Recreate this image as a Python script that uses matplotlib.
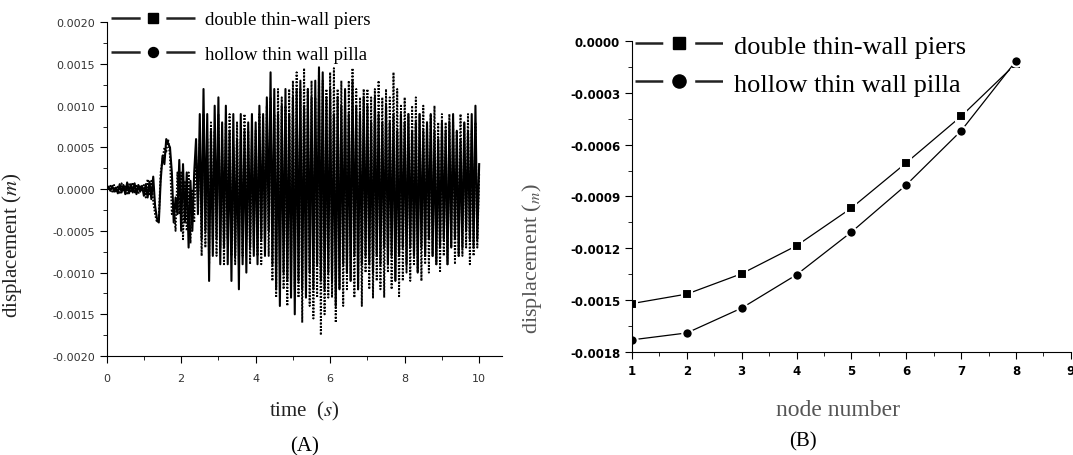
import numpy as np
import matplotlib
matplotlib.use("Agg")
import matplotlib.pyplot as plt
from matplotlib.lines import Line2D
from matplotlib.ticker import MultipleLocator, FormatStrFormatter

plt.rcParams['mathtext.fontset'] = 'stix'
plt.rcParams['lines.scale_dashes'] = False

# (A) displacement time history, peaks read every 0.05 s
time = np.round(np.arange(0, 10.001, 0.05), 2)

double_disp = [
    0.0, 0.00003, -0.00002, 0.00004, -0.00003, 0.00002, -0.00005, 0.00006, -0.00004, 0.00005,
    -0.00006, 0.00008, -0.00005, 0.00006, -0.00004, 0.00007, -0.00006, 0.00005, -0.00003, 0.00004,
    -0.00008, 0.00006, -0.0001, 0.00009, -0.00012, 0.00015, -0.0002, -0.00035, -0.0004, 0.0001,
    0.0004, 0.0003, 0.0006, 0.00055, 0.0005, 0.0002, -0.0004, -0.0001, -0.0003, 0.00035,
    -0.0005, 0.0003, -0.0004, 0.0002, -0.0007, 0.0001, -0.0005, 0.0002, 0.0006, -0.0003,
    0.0009, -0.0006, 0.0012, -0.0005, 0.0009, -0.0011, 0.0007, -0.0008, 0.001, -0.0006,
    0.0011, -0.0009, 0.0008, -0.0007, 0.001, -0.0009, 0.0007, -0.0011, 0.0009, -0.0008,
    0.0006, -0.0012, 0.0009, -0.0009, 0.0007, -0.001, 0.0008, -0.0007, 0.0009, -0.0008,
    0.0008, -0.0009, 0.001, -0.0006, 0.0009, -0.0008, 0.0011, -0.0005, 0.0014, -0.0009,
    0.0012, -0.0012, 0.0009, -0.0014, 0.001, -0.001, 0.0012, -0.0011, 0.0009, -0.0013,
    0.0011, -0.0015, 0.0012, -0.0011, 0.0013, -0.0012, 0.001, -0.0013, 0.0012, -0.001,
    0.0011, -0.0012, 0.0013, -0.0009, 0.00146, -0.0011, 0.0014, -0.0012, 0.0011, -0.001,
    0.0012, -0.0011, 0.0009, -0.0014, 0.0011, -0.0012, 0.001, -0.0009, 0.0012, -0.001,
    0.0009, -0.0011, 0.0013, -0.0008, 0.001, -0.0012, 0.0009, -0.0009, 0.0011, -0.0008,
    0.001, -0.0009, 0.0008, -0.001, 0.0011, -0.0008, 0.0009, -0.0009, 0.0008, -0.0007,
    0.001, -0.0009, 0.0008, -0.0008, 0.0009, -0.0011, 0.0007, -0.0008, 0.0009, -0.0007,
    0.0008, -0.0009, 0.0009, -0.0007, 0.0007, -0.0008, 0.0008, -0.001, 0.0009, -0.0007,
    0.0007, -0.0008, 0.0008, -0.0006, 0.0009, -0.0008, 0.0007, -0.0009, 0.0006, -0.0007,
    0.0008, -0.0006, 0.0007, -0.0009, 0.0008, -0.0007, 0.0009, -0.0006, 0.0007, -0.0008,
    0.0006, -0.0007, 0.0008, -0.0005, 0.0007, -0.0006, 0.0009, -0.0007, 0.001, -0.0006,
    0.0003,
]

hollow_disp = [
    0.0, -0.00002, 0.00004, -0.00003, 0.00005, -0.00004, 0.00003, -0.00006, 0.00007, -0.00003,
    0.00005, -0.00007, 0.00006, -0.00004, 0.00008, -0.00005, 0.00004, -0.00006, 0.00005, -0.00002,
    0.00005, -0.0001, 0.00012, -0.00008, 0.0001, -0.00015, -0.0003, -0.0004, -0.00035, 0.0002,
    0.00035, 0.0005, 0.00045, 0.0006, 0.0004, -0.0003, -0.0002, -0.0005, 0.0002, -0.0003,
    0.0002, -0.0006, 0.0001, -0.0005, 0.0002, -0.00065, 0.0, -0.0004, 0.0004, -0.0002,
    0.0006, -0.0008, 0.0009, -0.0007, 0.0006, -0.0009, 0.0008, -0.0006, 0.0007, -0.0008,
    0.0009, -0.0007, 0.0006, -0.0009, 0.0008, -0.0006, 0.0009, -0.0008, 0.0005, -0.0009,
    0.0008, -0.0007, 0.0006, -0.0008, 0.0009, -0.0006, 0.0007, -0.0009, 0.0006, -0.0007,
    0.0007, -0.0008, 0.0009, -0.0009, 0.0008, -0.0007, 0.001, -0.0008, 0.0011, -0.0011,
    0.0009, -0.0013, 0.0012, -0.0009, 0.0011, -0.0012, 0.001, -0.0014, 0.0012, -0.0011,
    0.0013, -0.0012, 0.0014, -0.0013, 0.0012, -0.0016, 0.00145, -0.0011, 0.0012, -0.0014,
    0.0013, -0.00155, 0.0011, -0.0013, 0.00145, -0.00175, 0.0013, -0.0015, 0.0012, -0.0013,
    0.0014, -0.0013, 0.00145, -0.0016, 0.0012, -0.0012, 0.0013, -0.0014, 0.0011, -0.0012,
    0.0013, -0.0011, 0.00145, -0.0013, 0.0012, -0.0012, 0.0011, -0.0014, 0.0012, -0.001,
    0.0012, -0.0012, 0.0011, -0.0013, 0.0012, -0.0011, 0.0013, -0.0012, 0.0011, -0.0013,
    0.0012, -0.001, 0.0011, -0.0012, 0.0014, -0.0011, 0.0012, -0.0013, 0.001, -0.0011,
    0.0011, -0.001, 0.0009, -0.0011, 0.001, -0.0009, 0.0011, -0.001, 0.0009, -0.0011,
    0.001, -0.0009, 0.0008, -0.001, 0.0009, -0.0008, 0.001, -0.0009, 0.0008, -0.001,
    0.0009, -0.0008, 0.0008, -0.0009, 0.0009, -0.0007, 0.0008, -0.0009, 0.0007, -0.0008,
    0.0009, -0.0008, 0.0008, -0.0007, 0.0009, -0.0009, 0.0007, -0.0008, 0.0008, -0.0007,
    0.0002,
]

# (B) displacement along the pier
nodes = [1, 2, 3, 4, 5, 6, 7, 8]
double_node = [-0.00152, -0.001465, -0.001347, -0.001185, -0.000967, -0.000705, -0.000436, -0.000131]
hollow_node = [-0.00173, -0.00169, -0.001546, -0.001353, -0.001106, -0.000833, -0.00052, -0.000116]

labels = ['double thin-wall piers', 'hollow thin wall pilla']

serif = ['Liberation Serif', 'DejaVu Serif']

fig = plt.figure(figsize=(10.73, 4.56), dpi=100)
axA = fig.add_axes([0.0994, 0.217, 0.368, 0.732])
axB = fig.add_axes([0.589, 0.226, 0.409, 0.682])

# panel A
axA.plot(time, double_disp, color='black', lw=1.5)
axA.plot(time, hollow_disp, color='black', lw=1.4, linestyle=(0, (1.2, 1.2)))
axA.set_xlim(0, 10.6)
axA.set_ylim(-0.002, 0.002)
axA.xaxis.set_major_locator(MultipleLocator(2))
axA.xaxis.set_minor_locator(MultipleLocator(1))
axA.yaxis.set_major_locator(MultipleLocator(0.0005))
axA.yaxis.set_minor_locator(MultipleLocator(0.00025))
axA.yaxis.set_major_formatter(FormatStrFormatter('%.4f'))
axA.tick_params(which='major', length=5, labelsize=8, labelcolor='#333333', direction='out')
axA.tick_params(axis='x', which='major', pad=7)
axA.tick_params(which='minor', length=3, direction='out')
axA.set_xlabel('time  ($s$)', fontsize=15, family=serif, color='#222222')
axA.set_ylabel('displacement ($m$)', fontsize=15, family=serif, color='#222222')
axA.xaxis.set_label_coords(0.5, -0.13)
axA.yaxis.set_label_coords(-0.21, 0.335)
axA.text(0.5, -0.27, '(A)', transform=axA.transAxes, ha='center', va='center',
         fontsize=15, family=serif)

# panel B
axB.plot(nodes, double_node, color='black', lw=0.9, marker='s', markersize=6.5,
         markeredgecolor='white', markeredgewidth=1.5, markerfacecolor='black')
axB.plot(nodes, hollow_node, color='black', lw=0.9, marker='o', markersize=7.5,
         markeredgecolor='white', markeredgewidth=1.5, markerfacecolor='black')
axB.set_xlim(1, 9)
axB.set_ylim(-0.0018, 0.0)
axB.xaxis.set_major_locator(MultipleLocator(1))
axB.xaxis.set_minor_locator(MultipleLocator(0.5))
axB.yaxis.set_major_locator(MultipleLocator(0.0003))
axB.yaxis.set_minor_locator(MultipleLocator(0.00015))
axB.yaxis.set_major_formatter(FormatStrFormatter('%.4f'))
axB.tick_params(which='major', length=5, labelsize=8.5, direction='out')
axB.tick_params(which='minor', length=3, direction='out')
for lab in axB.get_xticklabels() + axB.get_yticklabels():
    lab.set_fontweight('bold')
axB.set_xlabel('node number', fontsize=17, family=serif, color='#555555')
axB.set_ylabel('displacement ($_m$)', fontsize=16, family=serif, color='#555555')
axB.xaxis.set_label_coords(0.47, -0.15)
axB.yaxis.set_label_coords(-0.2, 0.305)
axB.text(0.39, -0.285, '(B)', transform=axB.transAxes, ha='center', va='center',
         fontsize=15, family=serif)

for ax in (axA, axB):
    ax.spines['top'].set_visible(False)
    ax.spines['right'].set_visible(False)


# legends drawn Origin style: line, gap, marker, gap, line
def legend_handles(on, off, msize):
    dash = (0, (on, off))
    h1 = Line2D([], [], color='#222222', lw=1.8, linestyle=dash, marker='s',
                markersize=msize, markerfacecolor='black', markeredgecolor='black')
    h2 = Line2D([], [], color='#222222', lw=1.8, linestyle=dash, marker='o',
                markersize=msize * 1.1, markerfacecolor='black', markeredgecolor='black')
    return [h1, h2]


fsA = 13.6
axA.legend(legend_handles(21, 18.5, 6.5), labels, loc='upper left', bbox_to_anchor=(0.012, 1.034),
           frameon=False, numpoints=1, handlelength=60 / fsA, handletextpad=0.55,
           labelspacing=0.92, borderaxespad=0.0, borderpad=0.0,
           prop={'family': serif, 'size': fsA})

fsB = 19
axB.legend(legend_handles(20, 23, 8.6), labels, loc='upper left', bbox_to_anchor=(0.007, 1.022),
           frameon=False, numpoints=1, handlelength=63 / fsB, handletextpad=0.45,
           labelspacing=0.55, borderaxespad=0.0, borderpad=0.0,
           prop={'family': serif, 'size': fsB})

fig.savefig('out.png', dpi=100, facecolor='white')
